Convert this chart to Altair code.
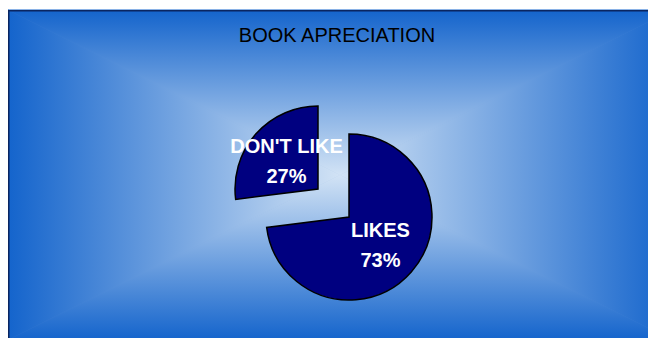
import altair as alt
import pandas as pd

# ---- data ----
TITLE = "BOOK APRECIATION"
categories = ["LIKES", "DON'T LIKE"]
values = [73, 27]

# ---- style / layout constants ----
W, H = 648, 338
BOX_L, BOX_T, BOX_R, BOX_B = 8, 10, 672, 340
CX, CY = (BOX_L + BOX_R) / 2, (BOX_T + BOX_B) / 2
EDGE = "#1464cc"
CENTER = "#d2e3f5"
PIE_FILL = "#000080"
R = 83
LIKES_C = (349, 217)
DONT_C = (318, 189)
FONT = "Liberation Sans"

pie_df = pd.DataFrame({"category": categories, "value": values, "order": list(range(len(categories)))})

base = alt.Chart(pie_df).transform_window(
    cum="sum(value)", sort=[alt.SortField("order")], frame=[None, 0]
).transform_calculate(
    start="datum.cum - datum.value",
    end="datum.cum",
    mid="datum.cum - datum.value / 2",
    label="datum.category + '~' + datum.value + '%'",
)

theta_scale = alt.Scale(domain=[0, 100], range=[0, 6.283185307179586])


def slice_layers(cat, center):
    b = base.transform_filter(alt.datum.category == cat)
    arc = b.mark_arc(radius=R, fill=PIE_FILL, stroke="black", strokeWidth=1.5).encode(
        x=alt.value(center[0]),
        y=alt.value(center[1]),
        theta=alt.Theta("start:Q", scale=theta_scale, stack=None),
        theta2=alt.Theta2("end:Q"),
    )
    txt = b.mark_text(
        radius=42, font=FONT, fontSize=20, fontWeight="bold", color="white",
        lineBreak="~", lineHeight=30, align="center", baseline="middle", dy=-14,
    ).encode(
        x=alt.value(center[0]),
        y=alt.value(center[1]),
        theta=alt.Theta("mid:Q", scale=theta_scale, stack=None),
        text="label:N",
    )
    return [arc, txt]


# ---- background: rectangular gradient made of four triangles ----
vert_df = pd.DataFrame({
    "part": ["top"] * 3 + ["bottom"] * 3,
    "x": [BOX_L, CX, BOX_R] * 2,
    "y": [BOX_T] * 3 + [BOX_B] * 3,
    "y2": [BOX_T, CY, BOX_T, BOX_B, CY, BOX_B],
})
horiz_df = pd.DataFrame({
    "part": ["left"] * 3 + ["right"] * 3,
    "y": [BOX_T, CY, BOX_B] * 2,
    "x": [BOX_L] * 3 + [BOX_R] * 3,
    "x2": [BOX_L, CX, BOX_L, BOX_R, CX, BOX_R],
})


def grad(x2, y2, reverse=False):
    stops = [alt.GradientStop(color=EDGE, offset=0), alt.GradientStop(color=CENTER, offset=1)]
    if reverse:
        stops = [alt.GradientStop(color=CENTER, offset=0), alt.GradientStop(color=EDGE, offset=1)]
    return alt.LinearGradient(gradient="linear", stops=stops, x1=0, y1=0, x2=x2, y2=y2)


bg_base = alt.Chart(pd.DataFrame({"a": [0]})).mark_rect(fill="#6f9ad8").encode(
    x=alt.value(BOX_L), x2=alt.value(BOX_R), y=alt.value(BOX_T), y2=alt.value(BOX_B)
)

tri_top = alt.Chart(vert_df).transform_filter(alt.datum.part == "top").mark_area(
    fill=grad(0, 1), stroke=grad(0, 1), strokeWidth=1, orient="vertical"
).encode(
    x=alt.X("x:Q", scale=None, axis=None),
    y=alt.Y("y:Q", scale=None, axis=None),
    y2="y2:Q",
)
tri_bottom = alt.Chart(vert_df).transform_filter(alt.datum.part == "bottom").mark_area(
    fill=grad(0, 1, reverse=True), stroke=grad(0, 1, reverse=True), strokeWidth=1, orient="vertical"
).encode(
    x=alt.X("x:Q", scale=None, axis=None),
    y=alt.Y("y:Q", scale=None, axis=None),
    y2="y2:Q",
)
tri_left = alt.Chart(horiz_df).transform_filter(alt.datum.part == "left").mark_area(
    fill=grad(1, 0), orient="horizontal"
).encode(
    y=alt.Y("y:Q", scale=None, axis=None),
    x=alt.X("x:Q", scale=None, axis=None),
    x2="x2:Q",
)
tri_right = alt.Chart(horiz_df).transform_filter(alt.datum.part == "right").mark_area(
    fill=grad(1, 0, reverse=True), orient="horizontal"
).encode(
    y=alt.Y("y:Q", scale=None, axis=None),
    x=alt.X("x:Q", scale=None, axis=None),
    x2="x2:Q",
)

border = alt.Chart(pd.DataFrame({"a": [0]})).mark_rect(
    filled=False, stroke="#0a2560", strokeWidth=1.5
).encode(
    x=alt.value(BOX_L + 0.75), x2=alt.value(BOX_R + 20), y=alt.value(BOX_T + 0.75), y2=alt.value(BOX_B + 20)
)

title = alt.Chart(pd.DataFrame({"t": [TITLE]})).mark_text(
    font=FONT, fontSize=20, color="black", align="center", baseline="alphabetic"
).encode(x=alt.value(337), y=alt.value(42), text="t:N")

layers = [bg_base, tri_top, tri_bottom, tri_left, tri_right, border]
layers += slice_layers("LIKES", LIKES_C)
layers += slice_layers("DON'T LIKE", DONT_C)
layers += [title]

chart = alt.layer(*layers).properties(
    width=W, height=H, padding=0, autosize=alt.AutoSizeParams(type="none"), background="white"
).configure_view(stroke=None)

chart.save("out.html", embed_options={"renderer": "svg", "actions": False})
